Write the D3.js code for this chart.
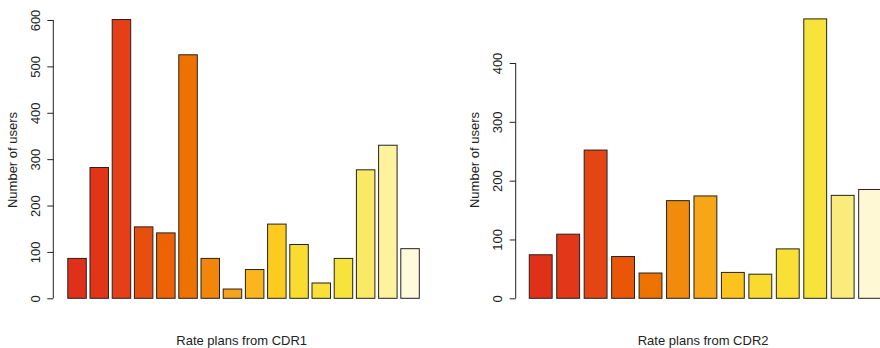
<!DOCTYPE html>
<html>
<head>
<meta charset="utf-8">
<script src="https://cdn.jsdelivr.net/npm/d3@7"></script>
<style>
  html, body { margin: 0; padding: 0; background: #fff; }
  svg { display: block; font-family: "Liberation Sans", Arial, Helvetica, sans-serif; }
</style>
</head>
<body>
<svg id="chart" width="880" height="348"></svg>
<script>
// Users per rate plan, CDR1 (16 plans) and CDR2 (13 plans)
const plansCdr1 = d3.range(1, 17).map(String);
const usersCdr1 = [86, 282, 601, 154, 141, 525, 86, 20, 62, 160, 116, 33, 86, 277, 330, 107];

const plansCdr2 = d3.range(1, 14).map(String);
const usersCdr2 = [74, 109, 252, 71, 43, 166, 174, 44, 41, 84, 475, 175, 185];

const ticksCdr1 = [0, 100, 200, 300, 400, 500, 600];
const ticksCdr2 = [0, 100, 200, 300, 400];

// warm palettes, red through orange to pale yellow
const paletteCdr1 = ["#E0301A", "#E23518", "#E43F16", "#E84E0E", "#EE6206", "#EE7200",
  "#F2860A", "#F6A21A", "#FBB51E", "#FCCB20", "#F8DC30", "#F8E038", "#F8E33A",
  "#FAE964", "#FDF29E", "#FFFADC"];
const paletteCdr2 = ["#E03019", "#E23718", "#E44512", "#EA5608", "#EE7200", "#F28A0C",
  "#F6A616", "#FCC21E", "#F8DA30", "#F9E036", "#F8E33A", "#FBEA7C", "#FFF8D4"];

const svg = d3.select("#chart");
const ink = "#222";
const fontSize = 13;

function barPanel(opts) {
  const g = svg.append("g");
  const n = opts.categories.length;
  const x = d3.scaleBand()
    .domain(opts.categories)
    .range([opts.x0, opts.x0 + n * opts.step])
    .paddingInner(1 / 6)
    .paddingOuter(1 / 12)
    .align(1);
  const y = d3.scaleLinear()
    .domain([0, opts.ticks[opts.ticks.length - 1]])
    .range([opts.yBase, opts.yTop]);

  g.selectAll("rect.bar")
    .data(opts.values)
    .join("rect")
    .attr("class", "bar")
    .attr("x", (d, i) => x(opts.categories[i]))
    .attr("width", x.bandwidth())
    .attr("y", d => y(d))
    .attr("height", d => y(0) - y(d))
    .attr("fill", (d, i) => opts.palette[i])
    .attr("stroke", ink)
    .attr("stroke-width", 1);

  // y axis with labels running parallel to it
  const axis = d3.axisLeft(y).tickValues(opts.ticks).tickSize(6).tickSizeOuter(0);
  const ag = g.append("g").attr("transform", `translate(${opts.axisX},0)`).call(axis);
  ag.select(".domain").remove();
  ag.append("line")
    .attr("x1", 0).attr("x2", 0)
    .attr("y1", y(opts.ticks[0])).attr("y2", y(opts.ticks[opts.ticks.length - 1]))
    .attr("stroke", ink);
  ag.selectAll(".tick line").attr("stroke", ink);
  ag.selectAll(".tick text")
    .attr("transform", "rotate(-90)")
    .attr("x", 0)
    .attr("y", -13.5)
    .attr("dy", null)
    .attr("text-anchor", "middle")
    .attr("fill", ink)
    .attr("font-size", fontSize)
    .attr("font-family", null);

  // axis titles
  const cy = (opts.yBase + opts.yTop + (y(opts.ticks[opts.ticks.length - 1]) - opts.yTop)) / 2;
  g.append("text")
    .attr("transform", `translate(${opts.ylabX},160) rotate(-90)`)
    .attr("text-anchor", "middle")
    .attr("fill", ink)
    .attr("font-size", fontSize)
    .text("Number of users");
  const xr = x.range();
  g.append("text")
    .attr("x", (xr[0] + xr[1]) / 2)
    .attr("y", 345)
    .attr("text-anchor", "middle")
    .attr("fill", ink)
    .attr("font-size", fontSize)
    .text(opts.xTitle);
}

barPanel({
  categories: plansCdr1, values: usersCdr1, ticks: ticksCdr1, palette: paletteCdr1,
  x0: 64.1, step: 22.2, yBase: 298.3, yTop: 20, axisX: 53.3, ylabX: 16.5,
  xTitle: "Rate plans from CDR1"
});

barPanel({
  categories: plansCdr2, values: usersCdr2, ticks: ticksCdr2, palette: paletteCdr2,
  x0: 524.7, step: 27.45, yBase: 298.3, yTop: 63, axisX: 515.7, ylabX: 479,
  xTitle: "Rate plans from CDR2"
});
</script>
</body>
</html>
